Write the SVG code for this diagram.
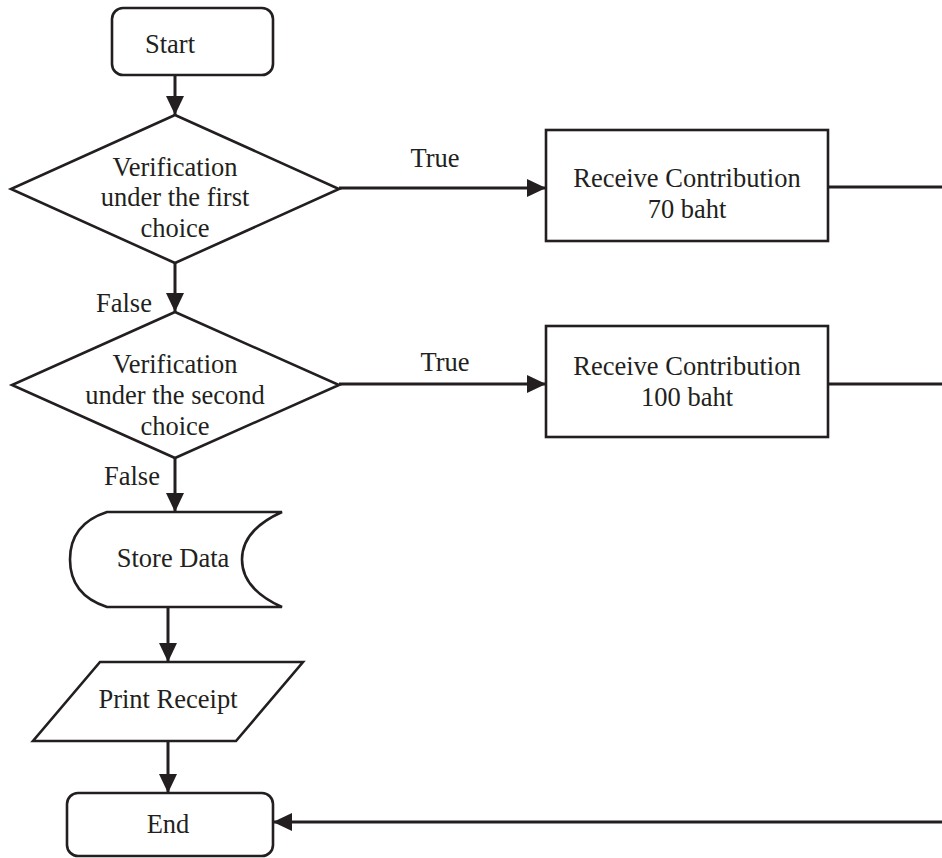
<svg xmlns="http://www.w3.org/2000/svg" width="942" height="858" viewBox="0 0 942 858">
<style>
.s{fill:#fff;stroke:#231f20;stroke-width:2.6;stroke-linejoin:miter}
.c{fill:none;stroke:#231f20;stroke-width:3}
text{font-family:'Liberation Serif','Times New Roman',serif;font-size:26.5px;fill:#231f20;text-anchor:middle}
.l{text-anchor:start}
</style>
<defs>
<marker id="ah" markerUnits="userSpaceOnUse" markerWidth="20" markerHeight="20" refX="19" refY="9" orient="auto" viewBox="0 0 20 18">
<path d="M0,0 L19,9 L0,18 Z" fill="#231f20"/>
</marker>
</defs>
<rect width="942" height="858" fill="#fff"/>
<g id="connectors">
<line class="c" x1="175" y1="75" x2="175" y2="115" marker-end="url(#ah)"/>
<line class="c" x1="175" y1="263" x2="175" y2="312" marker-end="url(#ah)"/>
<line class="c" x1="175" y1="458" x2="175" y2="512" marker-end="url(#ah)"/>
<line class="c" x1="168" y1="607" x2="168" y2="662" marker-end="url(#ah)"/>
<line class="c" x1="168" y1="741" x2="168" y2="793" marker-end="url(#ah)"/>
<line class="c" x1="339" y1="188" x2="546" y2="188" marker-end="url(#ah)"/>
<line class="c" x1="339" y1="384" x2="546" y2="384" marker-end="url(#ah)"/>
<line class="c" x1="828" y1="187" x2="942" y2="187"/>
<line class="c" x1="828" y1="384" x2="942" y2="384"/>
<line class="c" x1="942" y1="822" x2="273" y2="822" marker-end="url(#ah)"/>
<text x="435" y="167">True</text>
<text x="445" y="371">True</text>
<text class="l" x="96" y="312">False</text>
<text class="l" x="104" y="485">False</text>
</g>
<g id="start">
<rect class="s" x="112" y="8" width="161" height="67" rx="11"/>
<text x="170" y="53">Start</text>
</g>
<g id="decision1">
<polygon class="s" points="175,115 339,189 175,263 11,189"/>
<text x="175" y="176">Verification</text>
<text x="175" y="206">under the first</text>
<text x="175" y="237">choice</text>
</g>
<g id="decision2">
<polygon class="s" points="175,312 339,385 175,458 12,385"/>
<text x="175" y="373">Verification</text>
<text x="175" y="404">under the second</text>
<text x="175" y="435">choice</text>
</g>
<g id="receive70">
<rect class="s" x="546" y="130" width="282" height="111"/>
<text x="687" y="187">Receive Contribution</text>
<text x="687" y="218">70 baht</text>
</g>
<g id="receive100">
<rect class="s" x="546" y="326" width="282" height="111"/>
<text x="687" y="375">Receive Contribution</text>
<text x="687" y="406">100 baht</text>
</g>
<g id="store">
<path class="s" d="M107,512 L282,512 Q242,530 242,559.5 Q242,589 282,607 L107,607 Q70,595 70,559.5 Q70,524 107,512 Z"/>
<text x="173" y="567">Store Data</text>
</g>
<g id="print">
<polygon class="s" points="100,662 303,662 236,741 33,741"/>
<text x="168" y="708">Print Receipt</text>
</g>
<g id="end">
<rect class="s" x="67" y="793" width="206" height="63" rx="11"/>
<text x="168" y="833">End</text>
</g>
</svg>
